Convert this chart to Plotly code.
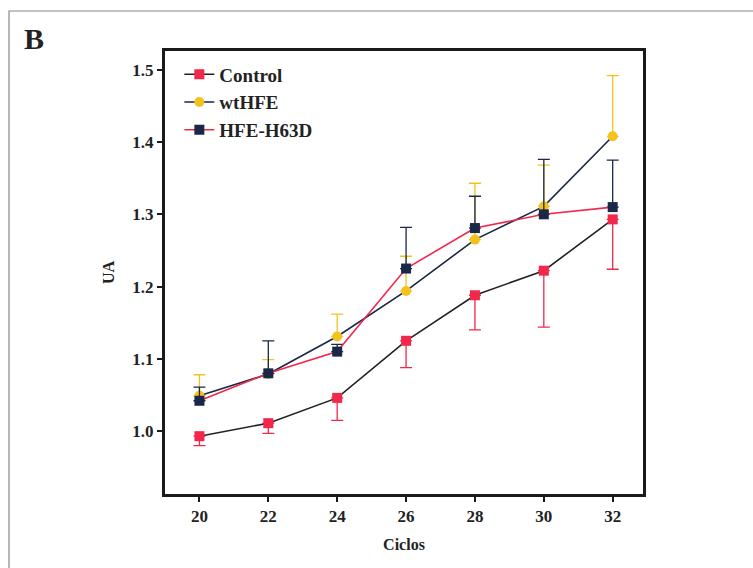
import plotly.graph_objects as go

cycles = [20, 22, 24, 26, 28, 30, 32]

control = [0.993, 1.011, 1.046, 1.125, 1.188, 1.222, 1.293]
control_err_minus = [0.013, 0.014, 0.031, 0.037, 0.048, 0.078, 0.069]

wthfe = [1.049, 1.079, 1.131, 1.194, 1.265, 1.311, 1.408]
wthfe_err_plus = [0.029, 0.020, 0.031, 0.048, 0.078, 0.057, 0.084]

h63d = [1.042, 1.080, 1.110, 1.225, 1.281, 1.300, 1.310]
h63d_err_plus = [0.019, 0.045, 0.010, 0.057, 0.044, 0.076, 0.065]

RED = "#f2274c"
YELLOW = "#f4c21c"
NAVY = "#1b2748"
DARK = "#222222"
FONT = "Liberation Serif"

fig = go.Figure()
fig.add_trace(go.Scatter(
    x=cycles, y=control, name="Control", mode="lines+markers",
    line=dict(color=DARK, width=1.6),
    marker=dict(symbol="square", size=10, color=RED),
    error_y=dict(type="data", symmetric=False, array=[0] * len(cycles),
                 arrayminus=control_err_minus, color=RED, thickness=1.3, width=6),
))
fig.add_trace(go.Scatter(
    x=cycles, y=wthfe, name="wtHFE", mode="lines+markers",
    line=dict(color=NAVY, width=1.6),
    marker=dict(symbol="circle", size=10, color=YELLOW),
    error_y=dict(type="data", symmetric=False, array=wthfe_err_plus,
                 arrayminus=[0] * len(cycles), color=YELLOW, thickness=1.3, width=6),
))
fig.add_trace(go.Scatter(
    x=cycles, y=h63d, name="HFE-H63D", mode="lines+markers",
    line=dict(color=RED, width=1.6),
    marker=dict(symbol="square", size=10, color=NAVY),
    error_y=dict(type="data", symmetric=False, array=h63d_err_plus,
                 arrayminus=[0] * len(cycles), color=NAVY, thickness=1.3, width=6),
))

axis_common = dict(
    showline=True, linecolor="#1a1a1a", linewidth=3, mirror=True,
    ticks="outside", ticklen=5, tickwidth=1.5, tickcolor="#1a1a1a",
    showgrid=False, zeroline=False,
    tickfont=dict(family=FONT, size=17, color="#222", weight="bold"),
)

fig.update_layout(
    width=753, height=568,
    margin=dict(l=165, r=110, t=51, b=74),
    paper_bgcolor="white", plot_bgcolor="white",
    font=dict(family=FONT, color="#222", weight="bold"),
    showlegend=True,
    legend=dict(x=0.03, y=0.99, xanchor="left", yanchor="top",
                bgcolor="rgba(0,0,0,0)",
                font=dict(family=FONT, size=19, color="#222", weight="bold")),
    xaxis=dict(range=[19.0, 32.88], tickvals=cycles,
               title=dict(text="Ciclos", standoff=14,
                          font=dict(family=FONT, size=16, color="#222", weight="bold")),
               **axis_common),
    yaxis=dict(range=[0.913, 1.526], tickvals=[1.0, 1.1, 1.2, 1.3, 1.4, 1.5],
               ticktext=["1.0", "1.1", "1.2", "1.3", "1.4", "1.5"],
               title=dict(text="UA", standoff=14,
                          font=dict(family=FONT, size=16, color="#222", weight="bold")),
               **axis_common),
    shapes=[dict(type="rect", xref="paper", yref="paper",
                 x0=(9 - 165) / 478, x1=(760 - 165) / 478,
                 y0=(494 - 580) / 443, y1=1 + (51 - 11) / 443,
                 line=dict(color="#888888", width=1.2), layer="below")],
    annotations=[dict(text="B", xref="paper", yref="paper",
                      x=(22 - 165) / 478, y=1 + (51 - 20) / 443,
                      xanchor="left", yanchor="top", showarrow=False,
                      font=dict(family=FONT, size=30, color="#222", weight="bold"))],
)

fig.write_html("out.html")
